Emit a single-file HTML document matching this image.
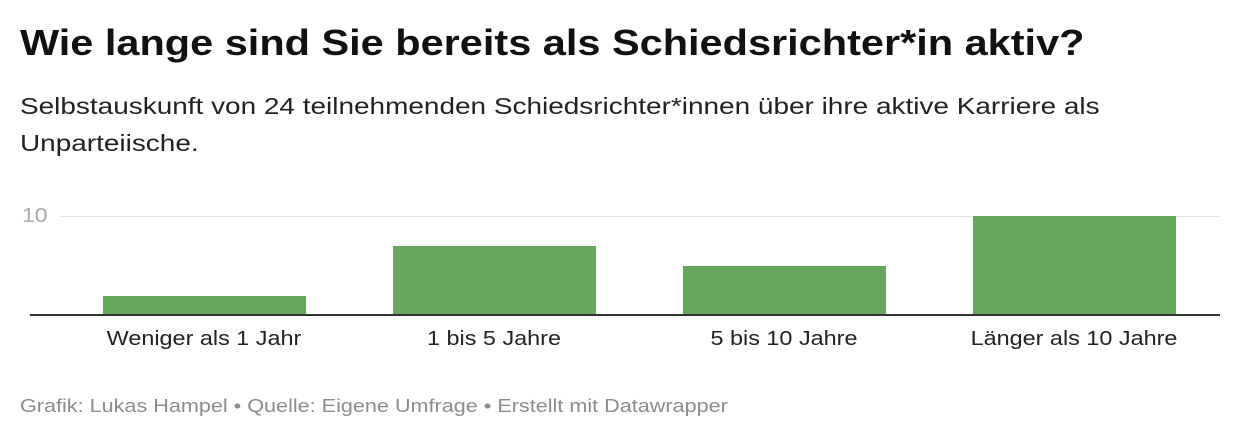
<!DOCTYPE html>
<html><head><meta charset="utf-8"><style>
body{margin:0;width:1240px;height:440px;background:#fff;font-family:"Liberation Sans",sans-serif;position:relative;overflow:hidden}
.a{position:absolute;white-space:nowrap;transform-origin:0 0}
.bar{position:absolute;background:#65a85c;width:203px}
.lab{position:absolute;top:328px;width:290px;text-align:center;font-size:20px;color:#222;transform:scaleX(1.17)}
</style></head><body>
<div class="a" style="left:20px;top:22px;font-size:36px;font-weight:bold;color:#111;transform:scaleX(1.152)">Wie lange sind Sie bereits als Schiedsrichter*in aktiv?</div>
<div class="a" style="left:20px;top:88px;font-size:23px;line-height:37px;color:#222;transform:scaleX(1.215)">Selbstauskunft von 24 teilnehmenden Schiedsrichter*innen über ihre aktive Karriere als<br>Unparteiische.</div>
<div class="a" style="left:22px;top:205px;font-size:20px;color:#aaa;transform:scaleX(1.15)">10</div>
<div class="a" style="left:60px;top:216px;width:1160px;height:1px;background:#e3e3e3"></div>
<div class="bar" style="left:103px;top:296px;height:19px"></div>
<div class="bar" style="left:393px;top:246px;height:69px"></div>
<div class="bar" style="left:683px;top:266px;height:49px"></div>
<div class="bar" style="left:973px;top:216px;height:99px"></div>
<div class="a" style="left:30px;top:314px;width:1190px;height:2px;background:#333"></div>
<div class="lab" style="left:59px">Weniger als 1 Jahr</div>
<div class="lab" style="left:349px">1 bis 5 Jahre</div>
<div class="lab" style="left:639px">5 bis 10 Jahre</div>
<div class="lab" style="left:929px">Länger als 10 Jahre</div>
<div class="a" style="left:20px;top:396px;font-size:18px;color:#8c8c8c;transform:scaleX(1.2)">Grafik: Lukas Hampel • Quelle: Eigene Umfrage • Erstellt mit Datawrapper</div>
</body></html>
